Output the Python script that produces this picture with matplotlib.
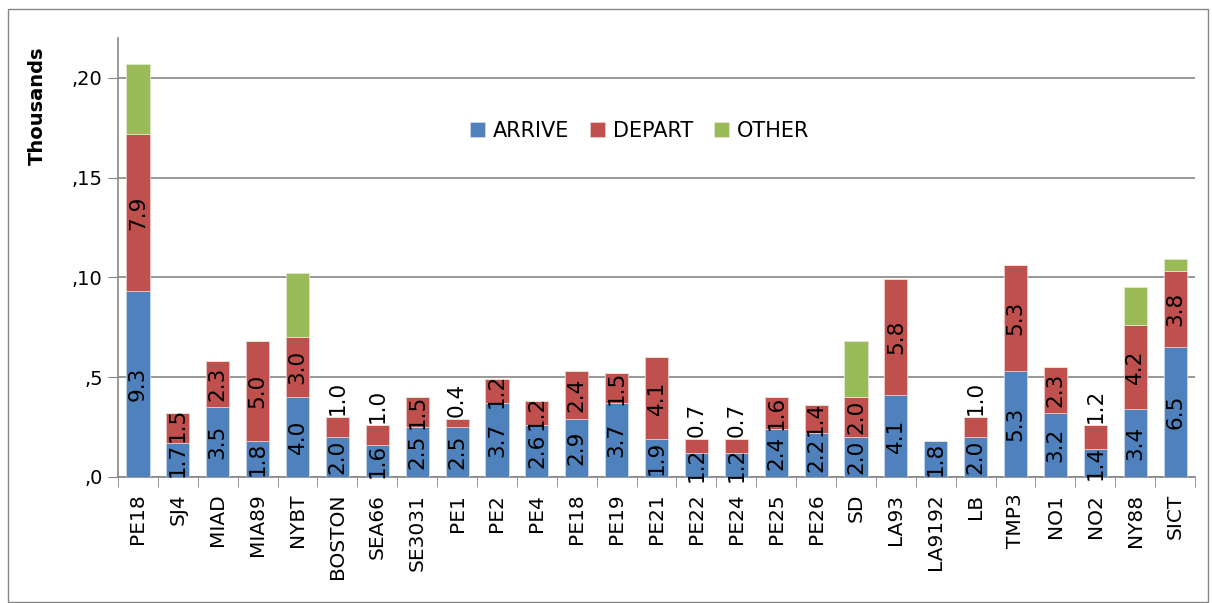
import matplotlib
matplotlib.use('Agg')
import matplotlib.pyplot as plt
from matplotlib.patches import Rectangle
import numpy as np

# data (in "thousands" axis units)
sites = ['PE18', 'SJ4', 'MIAD', 'MIA89', 'NYBT', 'BOSTON', 'SEA66', 'SE3031',
         'PE1', 'PE2', 'PE4', 'PE18', 'PE19', 'PE21', 'PE22', 'PE24', 'PE25',
         'PE26', 'SD', 'LA93', 'LA9192', 'LB', 'TMP3', 'NO1', 'NO2', 'NY88', 'SICT']
arrive = [9.3, 1.7, 3.5, 1.8, 4.0, 2.0, 1.6, 2.5, 2.5, 3.7, 2.6, 2.9, 3.7, 1.9,
          1.2, 1.2, 2.4, 2.2, 2.0, 4.1, 1.8, 2.0, 5.3, 3.2, 1.4, 3.4, 6.5]
depart = [7.9, 1.5, 2.3, 5.0, 3.0, 1.0, 1.0, 1.5, 0.4, 1.2, 1.2, 2.4, 1.5, 4.1,
          0.7, 0.7, 1.6, 1.4, 2.0, 5.8, 0.0, 1.0, 5.3, 2.3, 1.2, 4.2, 3.8]
other = [3.5, 0, 0, 0, 3.2, 0, 0, 0, 0, 0, 0, 0, 0, 0,
         0, 0, 0, 0, 2.8, 0, 0, 0, 0, 0, 0, 1.9, 0.6]
yticks = [0, 5, 10, 15, 20]
ytick_labels = [',0', ',5', ',10', ',15', ',20']

blue = '#4F81BD'
red = '#C0504D'
green = '#9BBB59'
grid_col = '#868686'

fig = plt.figure(figsize=(12.12, 6.03), dpi=100)
ax = fig.add_axes([0.0974, 0.209, 0.8886, 0.728])

x = np.arange(len(sites))
a = np.array(arrive)
d = np.array(depart)
o = np.array(other)
w = 0.58
ax.bar(x, a, w, color=blue, edgecolor='#c8d6ea', linewidth=0.6, label='ARRIVE', zorder=3)
ax.bar(x, d, w, bottom=a, color=red, edgecolor='#ecc8c7', linewidth=0.6, label='DEPART', zorder=3)
ax.bar(x, o, w, bottom=a + d, color=green, edgecolor='#dfe9cc', linewidth=0.6, label='OTHER', zorder=3)

# value labels, rotated, centred in segment; small departs pushed above the bar
lab_fs = 15.5
half = 0.85  # half label length in axis units
for i in range(len(sites)):
    ax.text(x[i], a[i] / 2, '%.1f' % a[i], rotation=90, ha='center', va='center',
            fontsize=lab_fs, zorder=4)
    if d[i] > 0:
        yc = a[i] + d[i] / 2
        if a[i] + d[i] < 3.1:
            yc = a[i] + d[i] + 0.95
        yc = max(yc, a[i] / 2 + 2 * half + 0.05)
        ax.text(x[i], yc, '%.1f' % d[i], rotation=90, ha='center', va='center',
                fontsize=lab_fs, zorder=4)

ax.set_xlim(-0.5, len(sites) - 0.5)
ax.set_ylim(0, 22)
ax.set_yticks(yticks)
ax.set_yticklabels(ytick_labels, fontsize=14)
ax.set_xticks(x)
ax.set_xticklabels(sites, rotation=90, fontsize=14.5)
ax.set_xticks(np.arange(len(sites) + 1) - 0.5, minor=True)
ax.tick_params(axis='x', which='major', length=0, pad=12)
ax.tick_params(axis='x', which='minor', length=7, color=grid_col)
ax.tick_params(axis='y', length=7, color=grid_col, pad=4)
ax.yaxis.grid(True, color=grid_col, linewidth=1.2, zorder=0)
ax.set_axisbelow(True)
for s in ['top', 'right']:
    ax.spines[s].set_visible(False)
for s in ['left', 'bottom']:
    ax.spines[s].set_color(grid_col)
    ax.spines[s].set_linewidth(1.2)

# display-units label sits at the top of the value axis
fig.text(37 / 1212, 1 - 106 / 603, 'Thousands', rotation=90, ha='center', va='center',
         fontsize=14, fontweight='bold')

fig.legend(loc='center', bbox_to_anchor=(640 / 1212, 1 - 131 / 603), ncol=3,
           frameon=False, fontsize=15, handlelength=0.7, handleheight=0.7,
           columnspacing=1.0, handletextpad=0.4)

# outer chart border
fig.patches.append(Rectangle((8 / 1212, 0.002), 1200 / 1212, 1 - 9 / 603 - 0.002,
                             transform=fig.transFigure, fill=False,
                             edgecolor=grid_col, linewidth=1.0))

fig.savefig('out.png', dpi=100)
